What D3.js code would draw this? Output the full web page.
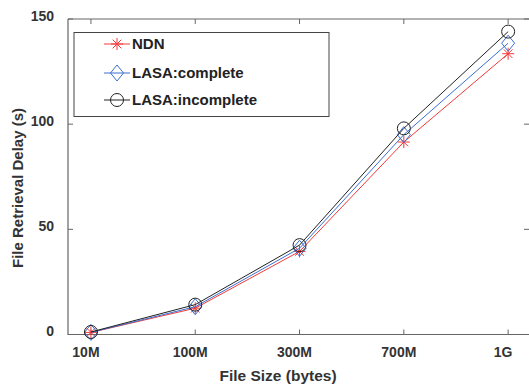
<!DOCTYPE html>
<html><head><meta charset="utf-8">
<script src="https://cdn.jsdelivr.net/npm/d3@7"></script>
<style>body{margin:0;background:#fff}svg{display:block}text{font-family:"Liberation Sans",Arial,sans-serif;font-weight:bold}</style>
</head><body><svg id="c" width="529" height="384"></svg>
<script>
const categories = ["10M","100M","300M","700M","1G"];
const ndn = [1.0, 12.5, 39.5, 91.5, 133.5];
const lasaComplete = [1.0, 13.2, 41.0, 95.0, 138.5];
const lasaIncomplete = [1.2, 14.2, 42.5, 98.0, 144.0];
const yTicks = [0, 50, 100, 150];
const seriesNames = ["NDN","LASA:complete","LASA:incomplete"];
const seriesColors = ["#f23a3a","#3a6fd2","#222222"];
const seriesMarkers = ["star","diamond","circle"];
const seriesData = [ndn, lasaComplete, lasaIncomplete];

const svg = d3.select("#c");
const L=68, R=529, T=19, B=334.5;
const x = d3.scaleLinear().domain([-0.22, 4.2]).range([L, R]);
const y = d3.scaleLinear().domain([0, 150]).range([B, T]);
const axisColor = "#666";

// frame
svg.append("path").attr("d",`M${L},${T}H${R}M${L},${T}V${B}H${R}`).attr("stroke",axisColor).attr("stroke-width",1.2).attr("fill","none");
// ticks
const tl=5;
categories.forEach((c,i)=>{
  const xx=x(i);
  svg.append("line").attr("x1",xx).attr("x2",xx).attr("y1",B).attr("y2",B-tl).attr("stroke",axisColor);
  svg.append("line").attr("x1",xx).attr("x2",xx).attr("y1",T).attr("y2",T+tl).attr("stroke",axisColor);
  svg.append("text").attr("x",xx-5).attr("y",B+22.5).attr("text-anchor","middle").attr("font-size",14).attr("fill","#333").text(c);
});
yTicks.forEach(v=>{
  const yy=y(v);
  svg.append("line").attr("x1",L).attr("x2",L+tl).attr("y1",yy).attr("y2",yy).attr("stroke",axisColor);
  svg.append("line").attr("x1",R).attr("x2",R-tl).attr("y1",yy).attr("y2",yy).attr("stroke",axisColor);
  svg.append("text").attr("x",54).attr("y",yy+1.5).attr("text-anchor","end").attr("font-size",14).attr("fill","#333").text(v);
});
svg.append("text").attr("x",278).attr("y",381).attr("text-anchor","middle").attr("font-size",15.5).attr("fill","#333").text("File Size (bytes)");
svg.append("text").attr("transform","translate(23,188) rotate(-90)").attr("text-anchor","middle").attr("font-size",15).attr("fill","#333").text("File Retrieval Delay (s)");

function marker(g, type, cx, cy, color){
  if(type==="star"){
    const r=6, d=r*0.72;
    g.append("path").attr("d",`M${cx-r},${cy}H${cx+r}M${cx},${cy-r}V${cy+r}M${cx-d},${cy-d}L${cx+d},${cy+d}M${cx-d},${cy+d}L${cx+d},${cy-d}`)
      .attr("stroke",color).attr("stroke-width",1).attr("fill","none");
  } else if(type==="diamond"){
    const rx=6.5, ry=8;
    g.append("path").attr("d",`M${cx},${cy-ry}L${cx+rx},${cy}L${cx},${cy+ry}L${cx-rx},${cy}Z`)
      .attr("stroke",color).attr("stroke-width",1).attr("fill","none");
  } else {
    g.append("circle").attr("cx",cx).attr("cy",cy).attr("r",6.5).attr("stroke",color).attr("stroke-width",1).attr("fill","none");
  }
}
const line = d3.line().x((d,i)=>x(i)).y(d=>y(d));
seriesData.forEach((data,s)=>{
  const g=svg.append("g");
  g.append("path").attr("d",line(data)).attr("stroke",seriesColors[s]).attr("stroke-width",1).attr("fill","none");
  data.forEach((v,i)=>marker(g,seriesMarkers[s],x(i),y(v),seriesColors[s]));
});

// legend
svg.append("rect").attr("x",74).attr("y",32.5).attr("width",255).attr("height",84).attr("fill","#fff").attr("stroke","#444").attr("stroke-width",1);
const ly=[44,73,100];
seriesNames.forEach((n,s)=>{
  const g=svg.append("g");
  g.append("line").attr("x1",104).attr("x2",130).attr("y1",ly[s]).attr("y2",ly[s]).attr("stroke",seriesColors[s]);
  marker(g,seriesMarkers[s],117,ly[s],seriesColors[s]);
  g.append("text").attr("x",132).attr("y",ly[s]+5).attr("font-size",15).attr("fill","#222").text(n);
});
</script></body></html>
